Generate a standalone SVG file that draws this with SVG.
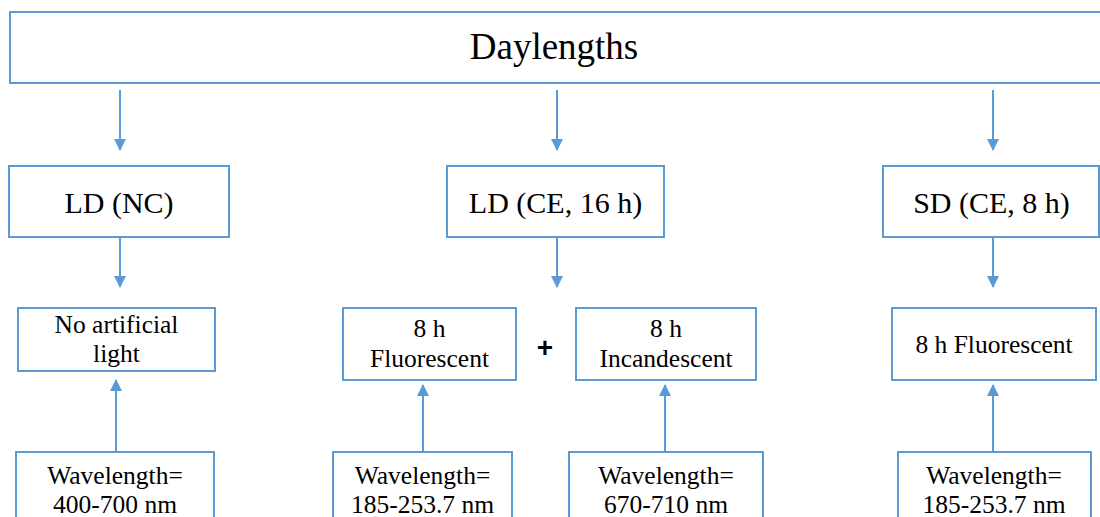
<svg xmlns="http://www.w3.org/2000/svg" width="1100" height="517" viewBox="0 0 1100 517">
<style>
.box{fill:#fff;stroke:#5B9BD5;stroke-width:2}
.t{font-family:"Liberation Serif","Times New Roman",serif;fill:#000;text-anchor:middle}
.m{font-size:30px}
.s{font-size:25.5px}
.c{stroke:#5B9BD5;stroke-width:2;fill:none}
</style>
<defs>
<marker id="ah" markerUnits="userSpaceOnUse" markerWidth="12" markerHeight="12" viewBox="0 0 12 12" refX="11" refY="6" orient="auto">
<path d="M0,0 L12,6 L0,12 Z" fill="#5B9BD5"/>
</marker>
</defs>
<rect width="1100" height="517" fill="#fff"/>
<g id="connectors">
<line class="c" x1="120" y1="90" x2="120" y2="150" marker-end="url(#ah)"/>
<line class="c" x1="557" y1="90" x2="557" y2="150" marker-end="url(#ah)"/>
<line class="c" x1="993" y1="90" x2="993" y2="150" marker-end="url(#ah)"/>
<line class="c" x1="120" y1="237" x2="120" y2="287" marker-end="url(#ah)"/>
<line class="c" x1="557" y1="237" x2="557" y2="287" marker-end="url(#ah)"/>
<line class="c" x1="993" y1="237" x2="993" y2="287" marker-end="url(#ah)"/>
<line class="c" x1="116" y1="452" x2="116" y2="380" marker-end="url(#ah)"/>
<line class="c" x1="423" y1="452" x2="423" y2="385" marker-end="url(#ah)"/>
<line class="c" x1="665" y1="452" x2="665" y2="385" marker-end="url(#ah)"/>
<line class="c" x1="993" y1="452" x2="993" y2="385" marker-end="url(#ah)"/>
</g>
<g id="daylengths">
<rect class="box" x="10" y="12" width="1100" height="71"/>
<text class="t" x="554" y="59" font-size="37">Daylengths</text>
</g>
<g id="ld-nc">
<rect class="box" x="9" y="166" width="220" height="71"/>
<text class="t m" x="119" y="213">LD (NC)</text>
</g>
<g id="ld-ce">
<rect class="box" x="447" y="166" width="217" height="71"/>
<text class="t m" x="555.5" y="213">LD (CE, 16 h)</text>
</g>
<g id="sd-ce">
<rect class="box" x="883" y="166" width="216" height="71"/>
<text class="t m" x="991.5" y="213">SD (CE, 8 h)</text>
</g>
<g id="no-artificial">
<rect class="box" x="18" y="308" width="197" height="63"/>
<text class="t s" x="116.5" y="333">No artificial</text>
<text class="t s" x="116.5" y="362">light</text>
</g>
<g id="fluor-ld">
<rect class="box" x="343" y="308" width="173" height="72"/>
<text class="t s" x="429.5" y="337">8 h</text>
<text class="t s" x="429.5" y="367">Fluorescent</text>
</g>
<g id="plus">
<text x="545" y="357" font-size="28" font-weight="bold" font-family="Liberation Sans, Arial, sans-serif" text-anchor="middle">+</text>
</g>
<g id="incand-ld">
<rect class="box" x="576" y="308" width="180" height="72"/>
<text class="t s" x="666" y="337">8 h</text>
<text class="t s" x="666" y="367">Incandescent</text>
</g>
<g id="fluor-sd">
<rect class="box" x="892" y="308" width="204" height="72"/>
<text class="t s" x="994" y="353">8 h Fluorescent</text>
</g>
<g id="wl-1">
<rect class="box" x="16" y="452" width="198" height="80"/>
<text class="t s" x="115" y="484">Wavelength=</text>
<text class="t s" x="115" y="513">400-700 nm</text>
</g>
<g id="wl-2">
<rect class="box" x="333" y="452" width="179" height="80"/>
<text class="t s" x="422.5" y="484">Wavelength=</text>
<text class="t s" x="422.5" y="513">185-253.7 nm</text>
</g>
<g id="wl-3">
<rect class="box" x="569" y="452" width="194" height="80"/>
<text class="t s" x="666" y="484">Wavelength=</text>
<text class="t s" x="666" y="513">670-710 nm</text>
</g>
<g id="wl-4">
<rect class="box" x="898" y="452" width="193" height="80"/>
<text class="t s" x="994" y="484">Wavelength=</text>
<text class="t s" x="994" y="513">185-253.7 nm</text>
</g>
</svg>
